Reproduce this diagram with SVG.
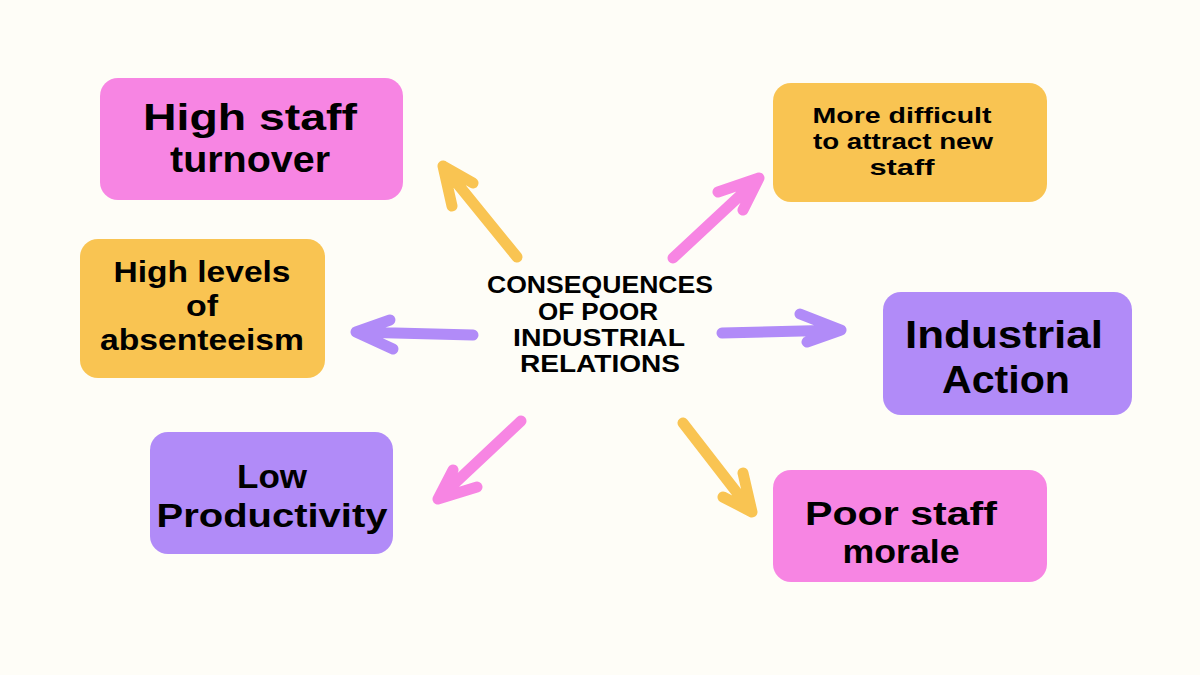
<svg xmlns="http://www.w3.org/2000/svg" width="1200" height="675" viewBox="0 0 1200 675">
<style>
.pink{fill:#F785E3}
.yellow{fill:#F9C452}
.purple{fill:#B18BF8}
.t{font-family:"Liberation Sans",Arial,sans-serif;font-weight:bold;fill:#000;text-anchor:middle}
.a{fill:none;stroke-width:11;stroke-linecap:round;stroke-linejoin:round}
.ap{stroke:#F785E3}
.ay{stroke:#F9C452}
.av{stroke:#B18BF8}
</style>
<rect width="1200" height="675" fill="#FEFDF7"/>
<g id="connectors">
<path class="a ay" d="M517 257 L443 166 M473 183 L443 166 L452 206"/>
<path class="a ap" d="M673 258 L759 178 M718 192 L759 178 L743 210"/>
<path class="a av" d="M473 335 L356 332 M390 320 L356 332 L393 349"/>
<path class="a av" d="M722 333 L841 330 M800 314 L841 330 L807 342"/>
<path class="a ap" d="M521 421 L438 499 M453 470 L438 499 L477 487"/>
<path class="a ay" d="M683 423 L752 512 M743 473 L752 512 L723 497"/>
</g>
<g id="center">
<text class="t" font-size="23" x="600" y="293" textLength="226" lengthAdjust="spacingAndGlyphs">CONSEQUENCES</text>
<text class="t" font-size="23" x="598" y="320" textLength="120" lengthAdjust="spacingAndGlyphs">OF POOR</text>
<text class="t" font-size="23" x="599" y="346" textLength="172" lengthAdjust="spacingAndGlyphs">INDUSTRIAL</text>
<text class="t" font-size="23" x="600" y="372" textLength="160" lengthAdjust="spacingAndGlyphs">RELATIONS</text>
</g>
<g id="turnover">
<rect class="pink" x="100" y="78" width="303" height="122" rx="18"/>
<text class="t" font-size="37" x="250" y="130" textLength="214" lengthAdjust="spacingAndGlyphs">High staff</text>
<text class="t" font-size="37" x="250" y="172" textLength="160" lengthAdjust="spacingAndGlyphs">turnover</text>
</g>
<g id="attract">
<rect class="yellow" x="773" y="83" width="274" height="119" rx="18"/>
<text class="t" font-size="22" x="902" y="123" textLength="179" lengthAdjust="spacingAndGlyphs">More difficult</text>
<text class="t" font-size="22" x="903" y="149" textLength="180" lengthAdjust="spacingAndGlyphs">to attract new</text>
<text class="t" font-size="22" x="902" y="175" textLength="65" lengthAdjust="spacingAndGlyphs">staff</text>
</g>
<g id="absenteeism">
<rect class="yellow" x="80" y="239" width="245" height="139" rx="18"/>
<text class="t" font-size="29" x="202" y="282" textLength="177" lengthAdjust="spacingAndGlyphs">High levels</text>
<text class="t" font-size="29" x="202" y="316" textLength="32" lengthAdjust="spacingAndGlyphs">of</text>
<text class="t" font-size="29" x="202" y="350" textLength="204" lengthAdjust="spacingAndGlyphs">absenteeism</text>
</g>
<g id="industrial">
<rect class="purple" x="883" y="292" width="249" height="123" rx="18"/>
<text class="t" font-size="38" x="1004" y="348" textLength="198" lengthAdjust="spacingAndGlyphs">Industrial</text>
<text class="t" font-size="38" x="1006" y="393" textLength="128" lengthAdjust="spacingAndGlyphs">Action</text>
</g>
<g id="productivity">
<rect class="purple" x="150" y="432" width="243" height="122" rx="18"/>
<text class="t" font-size="33" x="272" y="488" textLength="70" lengthAdjust="spacingAndGlyphs">Low</text>
<text class="t" font-size="33" x="272" y="527" textLength="231" lengthAdjust="spacingAndGlyphs">Productivity</text>
</g>
<g id="morale">
<rect class="pink" x="773" y="470" width="274" height="112" rx="18"/>
<text class="t" font-size="33" x="901" y="525" textLength="192" lengthAdjust="spacingAndGlyphs">Poor staff</text>
<text class="t" font-size="33" x="901" y="563" textLength="117" lengthAdjust="spacingAndGlyphs">morale</text>
</g>
</svg>
